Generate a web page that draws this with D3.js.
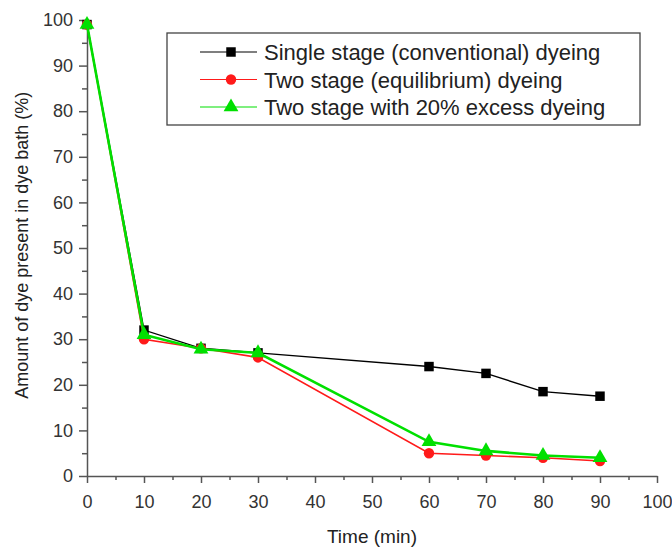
<!DOCTYPE html>
<html>
<head>
<meta charset="utf-8">
<script src="https://cdn.jsdelivr.net/npm/d3@7"></script>
<style>
  body { margin: 0; background: #fff; }
  svg { font-family: "Liberation Sans", Arial, sans-serif; }
</style>
</head>
<body>
<div id="chart"></div>
<script>
// data
const times = [0, 10, 20, 30, 60, 70, 80, 90];
const single_stage = [99, 32, 28, 27, 24, 22.5, 18.5, 17.5];
const two_stage = [99, 30, 28, 26, 5, 4.5, 4, 3.3];
const two_stage_excess = [99, 31, 27.8, 27, 7.5, 5.5, 4.5, 4];
const series_names = [
    "Single stage (conventional) dyeing",
    "Two stage (equilibrium) dyeing",
    "Two stage with 20% excess dyeing"
];
const x_ticks = [0, 10, 20, 30, 40, 50, 60, 70, 80, 90, 100];
const y_ticks = [0, 10, 20, 30, 40, 50, 60, 70, 80, 90, 100];

const width = 672, height = 550;
const margin = { top: 20, right: 15, bottom: 74, left: 87 };

const svg = d3.select("#chart").append("svg")
    .attr("width", width)
    .attr("height", height);

const x = d3.scaleLinear().domain([0, 100]).range([margin.left, 657]);
const y = d3.scaleLinear().domain([0, 100]).range([476, margin.top]);

const axis_color = "#555";

// y axis with minor ticks
svg.append("g")
    .attr("transform", "translate(" + x(0) + ",0)")
    .call(d3.axisLeft(y).tickValues(y_ticks).tickSize(8).tickSizeOuter(0).tickPadding(6));
svg.append("g")
    .attr("transform", "translate(" + x(0) + ",0)")
    .call(d3.axisLeft(y).tickValues(d3.range(5, 100, 10)).tickSize(5).tickFormat(""))
    .call(g => g.select(".domain").remove());

// x axis with minor ticks
svg.append("g")
    .attr("transform", "translate(0," + y(0) + ")")
    .call(d3.axisBottom(x).tickValues(x_ticks).tickSize(7).tickSizeOuter(0).tickPadding(12));
svg.append("g")
    .attr("transform", "translate(0," + y(0) + ")")
    .call(d3.axisBottom(x).tickValues(d3.range(5, 100, 10)).tickSize(4).tickFormat(""))
    .call(g => g.select(".domain").remove());

svg.selectAll(".domain, .tick line")
    .attr("stroke", axis_color)
    .attr("stroke-width", 1.5);
svg.selectAll(".tick text")
    .attr("font-size", 18)
    .attr("fill", "#333");

// axis titles
svg.append("text")
    .attr("x", x(50))
    .attr("y", 543)
    .attr("text-anchor", "middle")
    .attr("font-size", 19)
    .attr("fill", "#222")
    .text("Time (min)");

svg.append("text")
    .attr("transform", "translate(28," + y(50.6) + ") rotate(-90)")
    .attr("text-anchor", "middle")
    .attr("font-size", 18)
    .attr("fill", "#222")
    .text("Amount of dye present in dye bath (%)");

const series = [
    { values: single_stage, color: "#000", width: 1.4, marker: d3.symbolSquare, size: 90 },
    { values: two_stage, color: "#ff1a1a", width: 1.6, marker: d3.symbolCircle, size: 85 },
    { values: two_stage_excess, color: "#00e000", width: 2.6, marker: d3.symbolTriangle, size: 95 }
];

const line = d3.line()
    .x(d => x(d[0]))
    .y(d => y(d[1]));

series.forEach(s => {
    const pts = times.map((t, i) => [t, s.values[i]]);
    svg.append("path")
        .datum(pts)
        .attr("fill", "none")
        .attr("stroke", s.color)
        .attr("stroke-width", s.width)
        .attr("d", line);
    svg.append("g")
        .selectAll("path")
        .data(pts)
        .enter()
        .append("path")
        .attr("transform", d => "translate(" + x(d[0]) + "," + y(d[1]) + ")")
        .attr("d", d3.symbol().type(s.marker).size(s.size))
        .attr("fill", s.color);
});

// legend
const legend = svg.append("g");
legend.append("rect")
    .attr("x", 167)
    .attr("y", 33)
    .attr("width", 473)
    .attr("height", 92)
    .attr("fill", "#fff")
    .attr("stroke", "#444")
    .attr("stroke-width", 1.3);

series.forEach((s, i) => {
    const ly = 52 + i * 27.5;
    legend.append("line")
        .attr("x1", 200).attr("x2", 257)
        .attr("y1", ly).attr("y2", ly)
        .attr("stroke", s.color)
        .attr("stroke-width", 1.2);
    legend.append("path")
        .attr("transform", "translate(231," + ly + ")")
        .attr("d", d3.symbol().type(s.marker).size(s.size))
        .attr("fill", s.color);
    legend.append("text")
        .attr("x", 264)
        .attr("y", ly + 8)
        .attr("font-size", 22)
        .attr("fill", "#222")
        .text(series_names[i]);
});
</script>
</body>
</html>
